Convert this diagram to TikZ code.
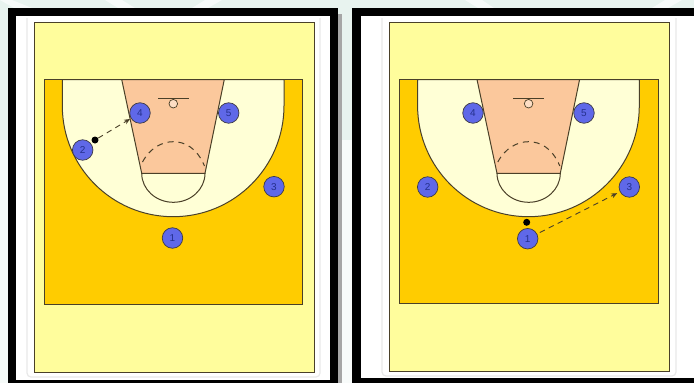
\documentclass[tikz,border=0pt]{standalone}
\usepackage{fontspec}
\setmainfont{Liberation Sans}
\usetikzlibrary{arrows.meta}
\definecolor{bgc}{HTML}{E8F3EF}
\definecolor{pale}{HTML}{FFFD9C}
\definecolor{courtc}{HTML}{FFCC00}
\definecolor{arcc}{HTML}{FFFFD6}
\definecolor{lanec}{HTML}{FBC89C}
\definecolor{playerc}{HTML}{5F68E8}
\definecolor{inkc}{HTML}{4A4028}
\definecolor{numc}{HTML}{24308C}
\tikzset{
  courtline/.style={draw=inkc,line width=1pt},
  player/.style={circle,draw=inkc!70!numc,line width=0.7pt,fill=playerc,minimum size=20.5pt,inner sep=0pt,text=numc,font=\fontsize{10}{10}\selectfont},
  ball/.style={circle,fill=black,minimum size=7pt,inner sep=0pt},
  move/.style={draw=inkc,line width=0.9pt,dash pattern=on 5.5pt off 4.5pt,-{Stealth[length=6pt,width=5pt]}}
}
\newcommand{\courtbase}[2]{%
  \path[courtline,fill=pale] (34,22.7) rectangle (314,#1);
  \path[courtline,fill=courtc] (44.5,79.5) rectangle (302.7,#2);
  \path[courtline,fill=arcc] (62.3,79.5) -- (62.3,105.7) arc[start angle=180,end angle=360,x radius=110.85pt,y radius=111pt] -- (284,79.5) -- cycle;
  \path[courtline,fill=arcc] (141.7,173.3) arc[start angle=180,end angle=360,x radius=31.65pt,y radius=29pt] -- cycle;
  \path[courtline,fill=lanec] (121.7,79.5) -- (224.3,79.5) -- (205,173.3) -- (141.7,173.3) -- cycle;
  \draw[inkc,line width=1pt,dash pattern=on 6pt off 5pt] (142.5,162) .. controls (150,148) and (162,141.7) .. (173.3,141.7) .. controls (185,141.7) and (197,148) .. (204.5,166);
  \draw[inkc,line width=1pt] (158,98.7) -- (189,98.7);
  \draw[inkc,line width=0.7pt,fill=lanec!60!white] (173.3,103.7) circle[radius=4.3pt];
}
\begin{document}
\begin{tikzpicture}[x=1pt,y=-1pt]
\useasboundingbox (0,0) rectangle (694,383);
\fill[bgc] (0,0) rectangle (694,383);
% pale watermark strokes
\fill[white!55!bgc] (0,140) rectangle (8,383);
\fill[white!70!bgc] (338,140) rectangle (352,383);
\fill[white!60!bgc] (0,0) -- (12,0) -- (32,8) -- (14,8) -- cycle;
\fill[white!60!bgc] (105,0) -- (122,0) -- (135,8) -- (118,8) -- cycle;
\fill[white!60!bgc] (205,0) -- (222,0) -- (208,8) -- (192,8) -- cycle;
\fill[white!60!bgc] (465,0) -- (482,0) -- (494,8) -- (478,8) -- cycle;
\fill[white!60!bgc] (665,0) -- (682,0) -- (668,8) -- (652,8) -- cycle;
% left frame
\fill[gray!70] (337,14) rectangle (342,383);
\fill[black] (8.3,8.3) rectangle (337.5,383);
\fill[white] (16,16) rectangle (330,380);
\draw[gray!18,line width=1.2pt,rounded corners=4pt] (27,18) -- (27,377) -- (320,377) -- (320,18);
% right frame
\fill[black] (352,8.3) rectangle (694,383);
\fill[white] (360.7,16) rectangle (694,378);
\draw[gray!18,line width=1.2pt,rounded corners=4pt] (382,18) -- (382,376) -- (676,376) -- (676,18);
% left court
\begin{scope}
  \courtbase{372}{304}
  \node[player] (lfour) at (140,113) {4};
  \node[player] (lfive) at (228.7,113) {5};
  \node[player] (ltwo) at (82.7,150) {2};
  \node[player] (lthree) at (274,186.7) {3};
  \node[player] (lone) at (172.5,238) {1};
  \node[ball] (lball) at (95,140) {};
  \draw[move,shorten >=1pt] (lball) -- (lfour);
\end{scope}
% right court
\begin{scope}[xshift=355.3pt]
  \courtbase{371}{303.5}
  \node[player] (rfour) at (117.7,113) {4};
  \node[player] (rfive) at (228.7,113) {5};
  \node[player] (rtwo) at (72.4,187) {2};
  \node[player] (rthree) at (274,187) {3};
  \node[player] (rone) at (172.4,238.7) {1};
  \node[ball] (rball) at (171.4,222.3) {};
  \draw[move,shorten <=3pt,shorten >=3pt] (rone) -- (rthree);
\end{scope}
\end{tikzpicture}
\end{document}
